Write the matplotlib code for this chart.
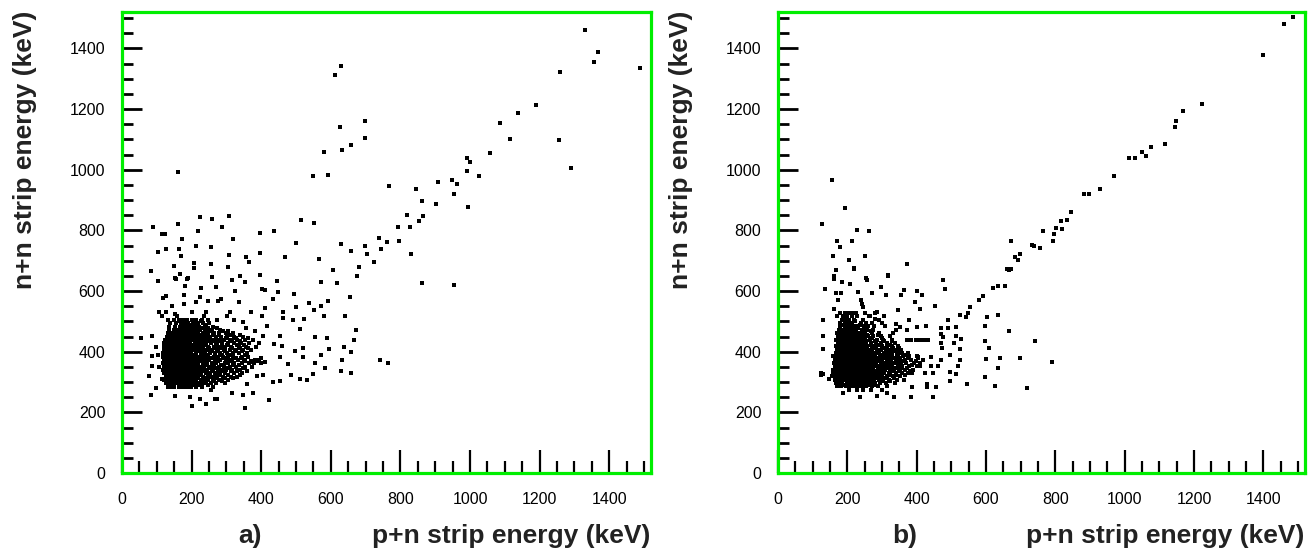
import matplotlib
matplotlib.use("Agg")
import matplotlib.pyplot as plt

plt.rcParams["font.family"] = ["Liberation Sans", "DejaVu Sans"]

W, H = 1308, 551

# panel a, scattered points
ax_x = [1331,1368,1355,1487,1258,629,612,1190,1138,1085,699,627,698,1115,1256,657,633,579,1056,990,1001,1290,990,162,
        1027,549,592,949,909,964,768,846,955,862,901,994,818,865,853,792,828,88,114,124,161,225,259,308,287,217,396,438,
        514,552,319,173,499,739,762,795,629,699,745,212,255,165,125,103,658,705,830,396,170,307,469,355,364,566,724,149,
        206,208,255,305,606,682,84,166,396,675,258,339,190,152,862,955,445,572,619,103,154,188,315,354,227,269,402,410,
        325,448,495,182,125,119,179,225,285,276,434,655,592,212,246,337,537,145,178,501,572,552,412,105,127,152,200,242,
        309,372,464,115,158,236,303,402,579,642,463,133,182,206,273,322,349,491,524,418,355,512,673,382,55,85,554,588,
        667,455,406,97,639,594,497,519,658,572,519,633,455,459,436,85,103,555,476,742,764,85,107,582,628,658,548,485,
        512,533,455,434,79,115,406,388,97,82,358,376,349,315,422,354,152,194,224,267,273,202,240,255,370,380,390,400,410]
ay_y = [1461,1387,1354,1337,1321,1343,1312,1213,1186,1153,1159,1140,1105,1102,1098,1082,1065,1057,1056,1040,1024,1006,996,994,
        978,980,981,965,959,954,945,937,921,898,888,878,851,846,830,812,811,812,789,789,820,845,839,847,811,797,792,797,
        835,823,770,771,759,775,762,765,754,749,738,749,744,737,737,729,731,721,721,726,716,718,713,711,695,704,696,682,
        691,676,688,680,670,680,665,656,654,648,645,648,642,642,625,619,633,630,625,632,640,639,635,630,610,613,606,602,
        599,597,591,617,583,577,586,580,575,566,575,579,566,564,566,563,561,549,556,547,549,536,544,530,530,525,530,530,
        530,530,530,519,519,519,519,519,519,519,510,503,503,503,503,503,497,503,508,484,477,475,470,468,444,451,447,444,
        440,453,453,414,414,409,403,411,398,390,381,373,381,418,425,387,389,362,358,373,362,354,348,345,337,330,328,323,
        309,306,304,301,320,309,323,320,281,256,293,263,256,265,241,215,254,250,243,243,243,222,226,274,365,362,368,362,366]

# panel a, dense core, one row of x values per y level
ad_rows_y = [285,296,307,318,329,340,351,362,373,384,395,406,417,428,439,450,461,472,483,494,505]
ad_rows_x = [
    [132,141,150,163,171,182,190,199,214,231,262],
    [125,136,144,153,160,171,180,189,197,208,217,229,240,257,270,296],
    [121,131,140,149,158,166,176,185,194,205,213,226,236,248,265,280,304],
    [126,134,146,155,163,172,181,190,199,209,218,232,246,258,271,289,312,330],
    [120,129,138,147,156,165,174,183,192,203,214,224,241,252,268,279,297,321,345],
    [118,127,136,145,154,162,171,180,189,198,208,220,229,245,262,275,286,300,316,338],
    [120,131,140,149,158,167,176,185,194,203,212,225,237,249,259,278,292,310,328,352,374],
    [117,126,135,144,153,161,170,179,188,199,208,217,233,244,258,270,295,306,322,344,364],
    [121,130,139,148,157,166,175,184,193,202,215,228,240,251,266,281,299,315,334,350,381,394],
    [119,128,137,146,155,164,173,182,191,200,209,222,235,247,263,276,290,304,320,345,362],
    [118,127,136,145,154,163,172,181,190,199,212,226,238,253,268,283,301,318,337,358],
    [122,131,140,149,158,167,176,185,194,206,217,231,243,257,272,292,309,326,348,371],
    [120,129,138,147,156,165,174,183,192,203,218,232,246,263,279,296,314,335,357,385],
    [121,132,141,150,159,168,177,186,196,209,221,236,255,272,288,305,322,342,366,394],
    [124,135,146,155,164,173,182,191,200,214,226,241,258,276,293,310,331,352,376],
    [128,139,150,160,169,178,187,198,211,224,240,254,270,285,302,322,349],
    [131,143,155,165,174,183,194,206,219,232,247,263,280,299,320],
    [134,148,160,171,180,189,201,213,225,241,258,281],
    [135,152,166,176,187,197,209,222,238,262],
    [137,156,170,180,191,205,218,233,251],
    [133,150,165,175,187,201,214,229,247],
]
# panel a, points between the rows
ae_y = [291,302,313,324,335,346,357,368,379,390,401,412,423,434,445,456,467,478,489,500]
ae_x = [
    [205,222,248],
    [212,235,262,288],
    [203,219,241,273,297,318],
    [211,226,253,283,305,338],
    [219,236,259,291,312,329,358],
    [207,233,251,269,306,347],
    [216,242,264,285,319,337],
    [203,224,238,276,301,312,353,372],
    [211,233,256,272,293,327,343,399],
    [206,229,245,267,287,311,352],
    [219,234,259,276,296,328,345],
    [212,226,250,266,284,317,339,362],
    [208,225,240,270,286,301,329,351],
    [216,231,247,264,281,315,340],
    [205,220,236,249,298,327,361],
    [212,229,245,262,278,311,340],
    [200,216,238,253,290,306],
    [195,209,228,247,272],
    [176,199,216,242],
    [163,185,210,226],
]

# panel b, scattered points
bx_x = [1486,1460,1398,1223,1168,1148,1145,1117,1075,1049,1062,1029,1013,969,930,897,884,846,834,816,819,801,795,765,792,673,
        733,739,757,697,683,692,661,671,156,192,127,228,263,170,214,180,158,251,204,372,218,168,318,161,254,
        667,220,318,168,256,161,477,184,208,298,483,655,634,620,137,363,402,181,167,232,270,312,355,414,590,580,174,238,
        241,396,453,554,409,244,161,346,524,548,542,602,634,286,266,281,131,379,491,340,596,667,402,426,513,471,489,372,
        352,131,471,513,477,741,596,528,372,385,398,410,422,434,471,507,131,608,524,473,697,790,601,640,495,524,469,520,
        461,634,495,513,596,546,626,718,495,123,123,129,147,387,431,431,456,385,447,334,313,286,236,188,441,441,411,423,
        447,405,387]
by_y = [1502,1480,1378,1217,1192,1161,1142,1084,1075,1059,1044,1038,1038,980,937,921,921,862,834,832,806,809,789,797,765,764,
        753,749,743,723,712,702,674,672,965,875,820,802,797,765,764,745,716,715,702,690,677,669,653,650,644,
        668,674,650,668,635,641,636,630,624,613,608,617,617,610,608,602,599,594,594,597,593,586,588,588,583,569,572,569,
        558,564,549,547,541,547,541,538,522,528,514,514,522,530,519,508,503,503,503,492,486,467,481,484,481,477,477,470,
        481,453,459,451,448,436,434,442,440,440,440,440,440,440,429,429,409,411,409,411,379,367,376,378,389,373,373,354,
        352,345,334,328,315,293,287,280,304,331,323,326,309,282,293,282,282,252,252,252,263,254,251,265,354,381,354,331,
        331,381,331]

# panel b, dense core
bd_rows_y = [275,286,297,308,319,330,341,352,363,374,385,396,407,418,429,440,451,462,473,484,495,506,517,528]
bd_rows_x = [
    [205,229,244,268,301],
    [170,181,196,208,219,231,243,255,272,289,315],
    [166,177,186,198,207,216,226,235,246,258,267,279,295,311,338],
    [165,174,183,192,201,210,219,228,237,246,255,265,276,290,303,321,344,362],
    [157,168,177,186,195,204,213,222,231,240,249,258,268,279,288,300,314,332,351],
    [160,171,180,189,198,207,216,225,234,243,252,261,272,283,295,306,319,340,359,375],
    [158,167,176,185,194,203,212,221,230,239,248,257,266,275,288,299,310,323,335,348,366,390],
    [164,173,182,191,200,209,218,227,236,245,254,263,272,281,290,303,316,328,345,358,379,401],
    [162,171,180,189,198,207,216,225,234,243,252,261,270,283,296,307,320,332,344,355,370,392,410],
    [165,174,183,192,201,210,219,228,237,246,255,264,276,289,301,314,326,339,351,366,384,419],
    [160,170,179,188,197,206,215,224,233,242,251,260,269,281,294,306,318,330,344,360,378,400],
    [168,177,186,195,204,213,222,231,240,249,258,267,279,292,305,317,329,342,358,375],
    [170,179,188,197,206,215,224,233,242,251,260,271,285,297,311,324,340,356],
    [166,175,184,193,202,211,220,229,238,247,258,270,283,299,314,330,346],
    [172,181,190,199,208,217,226,235,244,255,268,282,296,313,337],
    [168,178,187,196,205,214,223,232,241,252,266,286,304,330],
    [174,184,193,202,211,220,229,238,247,260,275,296,322],
    [170,182,191,200,209,218,228,240,252,270,291,332],
    [176,188,198,207,216,226,242,256,275,340],
    [180,194,206,214,224,248,260,278,308],
    [178,192,204,212,238,254,271,300],
    [186,196,205,220,246,292],
    [170,188,200,212,229,262,305],
    [178,192,205,216,224,252,280],
]
# panel b, points between the rows
be_y = [291,302,313,324,335,346,357,368,379,390,401,412,423,434,445,456,467,478,489,500]
be_x = [
    [188,214,238,262,281],
    [204,229,253,271,300,322],
    [215,242,269,288,312,335],
    [226,254,281,297,323,341,366],
    [218,247,276,302,330,352,381],
    [234,263,291,311,338,357,372],
    [221,250,283,309,327,352,386],
    [239,268,295,318,341,362,398],
    [227,258,285,309,335,349,376,405],
    [216,245,278,300,323,347,369],
    [232,262,287,312,336,353],
    [223,254,276,304,331,349],
    [212,241,267,291,322],
    [229,253,279,306,328],
    [219,246,271,299],
    [207,234,258,287],
    [193,222,249,268],
    [203,231,255],
    [186,212,236],
    [196,222],
]

panels = [
    ("a)", ax_x, ay_y, ad_rows_y, ad_rows_x, ae_y, ae_x, 122, 651, 250, 650, 25),
    ("b)", bx_x, by_y, bd_rows_y, bd_rows_x, be_y, be_x, 778, 1305, 905, 1304, 681),
]

fig = plt.figure(figsize=(W / 100, H / 100), dpi=100)

for name, xs, ys, rows_y, rows_x, ext_y, ext_x, left, right, name_x, lab_x, ylab_x in panels:
    ax = fig.add_axes([left / W, 1 - 473 / H, (right - left) / W, (473 - 12) / H])
    dx = [v for row in rows_x + ext_x for v in row]
    dy = [y for y, row in zip(rows_y + ext_y, rows_x + ext_x) for _ in row]
    ax.plot(xs + dx, ys + dy, "s", color="black", ms=3.0, mew=0, clip_on=False)
    ax.set_xlim(0, 1520)
    ax.set_ylim(0, 1520)
    ax.set_xticks(range(0, 1401, 200))
    ax.set_yticks(range(0, 1401, 200))
    ax.set_xticks(range(0, 1501, 50), minor=True)
    ax.set_yticks(range(0, 1501, 50), minor=True)
    ax.tick_params(axis="x", which="major", direction="in", length=16.5, width=1.6, pad=14, labelsize=11.5)
    ax.tick_params(axis="x", which="minor", direction="in", length=8.5, width=1.6)
    ax.tick_params(axis="y", which="major", direction="in", length=14.5, width=2.0, pad=12, labelsize=11.5)
    ax.tick_params(axis="y", which="minor", direction="in", length=8, width=2.0)
    for s in ax.spines.values():
        s.set_color("#00ee00")
        s.set_linewidth(2.3)
        s.set_zorder(5)
    fig.text(name_x / W, 1 - 536 / H, name, fontsize=19, fontweight="bold", color="#222222",
             ha="center", va="center")
    fig.text(lab_x / W, 1 - 536 / H, "p+n strip energy (keV)", fontsize=19, fontweight="bold",
             color="#222222", ha="right", va="center")
    fig.text(ylab_x / W, 1 - 150 / H, "n+n strip energy (keV)", fontsize=19, fontweight="bold",
             color="#222222", rotation=90, ha="center", va="center")

fig.savefig("out.png", dpi=100)
